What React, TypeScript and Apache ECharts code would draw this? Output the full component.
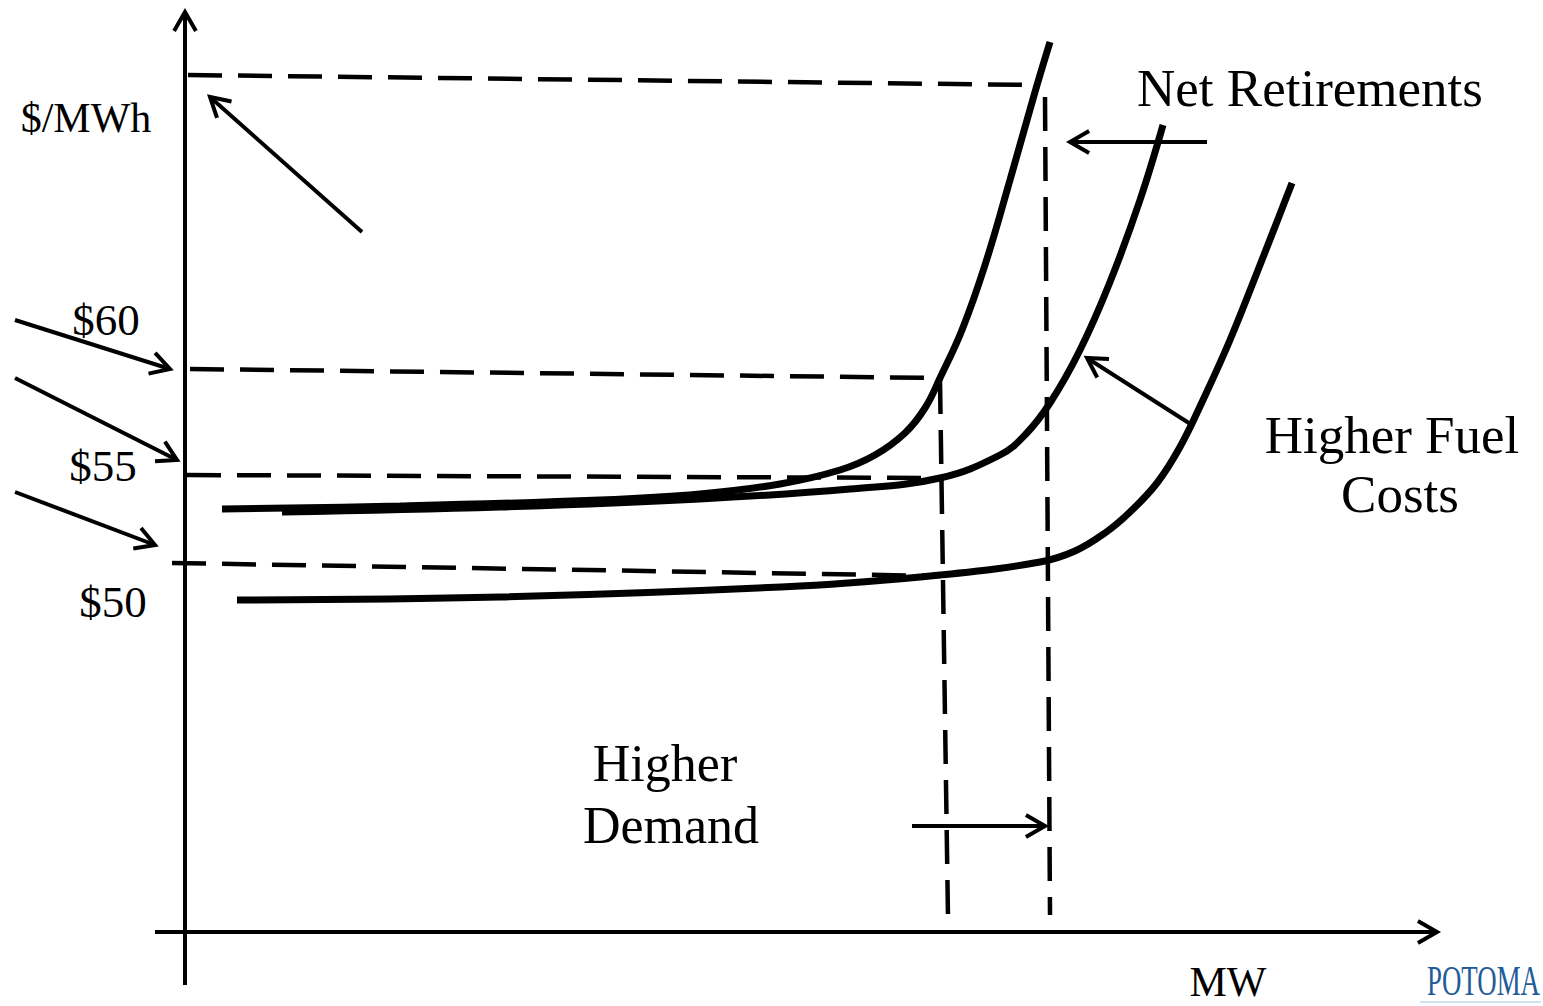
import React, { useEffect, useRef } from "react";
import * as echarts from "echarts";

// Schematic supply curves (x = MW position, y = price position on the sketch scale)
const retireX = [222, 400, 600, 700, 780, 840, 875, 905, 925, 940, 962, 985, 1010, 1035, 1050];
const retireY = [509, 506, 500, 494, 484, 470, 455, 433, 408, 378, 330, 265, 180, 92, 42];

const baseX = [282, 500, 700, 850, 940, 1000, 1025, 1050, 1080, 1110, 1140, 1163];
const baseY = [512, 507, 499, 489, 478, 455, 435, 403, 350, 282, 200, 125];

const fuelX = [237, 500, 800, 940, 1040, 1075, 1105, 1130, 1157, 1180, 1203, 1230, 1260, 1292];
const fuelY = [600, 597, 586, 575, 562, 551, 533, 512, 483, 447, 400, 340, 265, 183];

// Dashed reference lines [x1, y1, x2, y2]
const dashedLines: number[][] = [
  [188, 75, 1035, 85],
  [190, 369, 940, 378],
  [187, 475, 940, 478],
  [172, 563, 940, 576],
  [940, 380, 948, 918],
  [1045, 97, 1050, 915],
];

// Axes [x1, y1, x2, y2] (end carries arrowhead)
const axisLines: number[][] = [
  [185, 985, 185, 12],
  [155, 932, 1437, 932],
];

// Annotation arrows [x1, y1, x2, y2]
const arrows: number[][] = [
  [362, 232, 210, 97],
  [15, 320, 170, 369],
  [15, 378, 177, 460],
  [15, 492, 155, 545],
  [1207, 142, 1070, 142],
  [1192, 425, 1087, 358],
  [912, 826, 1045, 826],
];

const priceLabels = ["$/MWh", "$60", "$55", "$50"];
const noteLabels = ["Net Retirements", "Higher Fuel", "Costs", "Higher", "Demand", "MW"];
const logoText = "POTOMA";

const FONT = '"Liberation Serif", "Times New Roman", serif';

function arrowSeries(data: number[][], width: number) {
  return {
    type: "custom",
    coordinateSystem: "cartesian2d",
    data,
    silent: true,
    renderItem: (_params: any, api: any) => {
      const p1 = api.coord([api.value(0), api.value(1)]);
      const p2 = api.coord([api.value(2), api.value(3)]);
      const ang = Math.atan2(p2[1] - p1[1], p2[0] - p1[0]);
      const L = 22;
      const spread = 0.52;
      const a1 = [p2[0] - L * Math.cos(ang - spread), p2[1] - L * Math.sin(ang - spread)];
      const a2 = [p2[0] - L * Math.cos(ang + spread), p2[1] - L * Math.sin(ang + spread)];
      const st = { stroke: "#000", lineWidth: width, fill: null, lineCap: "butt", lineJoin: "miter" };
      return {
        type: "group",
        children: [
          { type: "line", shape: { x1: p1[0], y1: p1[1], x2: p2[0], y2: p2[1] }, style: st },
          { type: "polyline", shape: { points: [a1, p2, a2] }, style: st },
        ],
      };
    },
  };
}

function dashedSeries(data: number[][]) {
  return {
    type: "custom",
    coordinateSystem: "cartesian2d",
    data,
    silent: true,
    renderItem: (_params: any, api: any) => {
      const p1 = api.coord([api.value(0), api.value(1)]);
      const p2 = api.coord([api.value(2), api.value(3)]);
      return {
        type: "line",
        shape: { x1: p1[0], y1: p1[1], x2: p2[0], y2: p2[1] },
        style: { stroke: "#000", lineWidth: 4.5, lineDash: [34, 16] },
      };
    },
  };
}

function curve(xs: number[], ys: number[]) {
  return {
    type: "line",
    data: xs.map((x, i) => [x, ys[i]]),
    smooth: 0.4,
    showSymbol: false,
    silent: true,
    lineStyle: { color: "#000", width: 7 },
  };
}

function txt(text: string, x: number, y: number, size: number, align = "center") {
  return {
    type: "text",
    x,
    y,
    silent: true,
    style: {
      text,
      fill: "#000",
      font: `${size}px ${FONT}`,
      textAlign: align,
      textVerticalAlign: "middle",
    },
  };
}

export default function App() {
  const ref = useRef<HTMLDivElement>(null);
  useEffect(() => {
    if (!ref.current) return;
    const chart = echarts.init(ref.current, undefined, { renderer: "svg" });
    chart.setOption({
      animation: false,
      backgroundColor: "#fff",
      grid: { left: 0, right: 0, top: 0, bottom: 0 },
      xAxis: { type: "value", min: 0, max: 1543, show: false },
      yAxis: { type: "value", min: 0, max: 1006, inverse: true, show: false },
      series: [
        arrowSeries(axisLines, 4),
        dashedSeries(dashedLines),
        curve(retireX, retireY),
        curve(baseX, baseY),
        curve(fuelX, fuelY),
        arrowSeries(arrows, 4),
      ],
      graphic: [
        txt(priceLabels[0], 86, 118, 42),
        txt(priceLabels[1], 106, 320, 45),
        txt(priceLabels[2], 103, 466, 45),
        txt(priceLabels[3], 113, 602, 45),
        txt(noteLabels[0], 1310, 88, 53),
        txt(noteLabels[1], 1392, 435, 53),
        txt(noteLabels[2], 1400, 494, 53),
        txt(noteLabels[3], 665, 763, 52),
        txt(noteLabels[4], 671, 825, 52),
        txt(noteLabels[5], 1228, 982, 42),
        {
          type: "rect",
          silent: true,
          shape: { x: 1420, y: 1001, width: 121, height: 2 },
          style: { fill: "#cfe3f2" },
        },
        {
          type: "text",
          x: 1540,
          y: 981,
          scaleX: 0.64,
          silent: true,
          style: {
            text: logoText,
            fill: "#1f5c99",
            font: `42px ${FONT}`,
            textAlign: "right",
            textVerticalAlign: "middle",
          },
        },
      ],
    });
    return () => chart.dispose();
  }, []);
  return (
    <div
      ref={ref}
      style={{ position: "fixed", left: 0, top: 0, width: 1543, height: 1006, background: "#fff" }}
    />
  );
}
